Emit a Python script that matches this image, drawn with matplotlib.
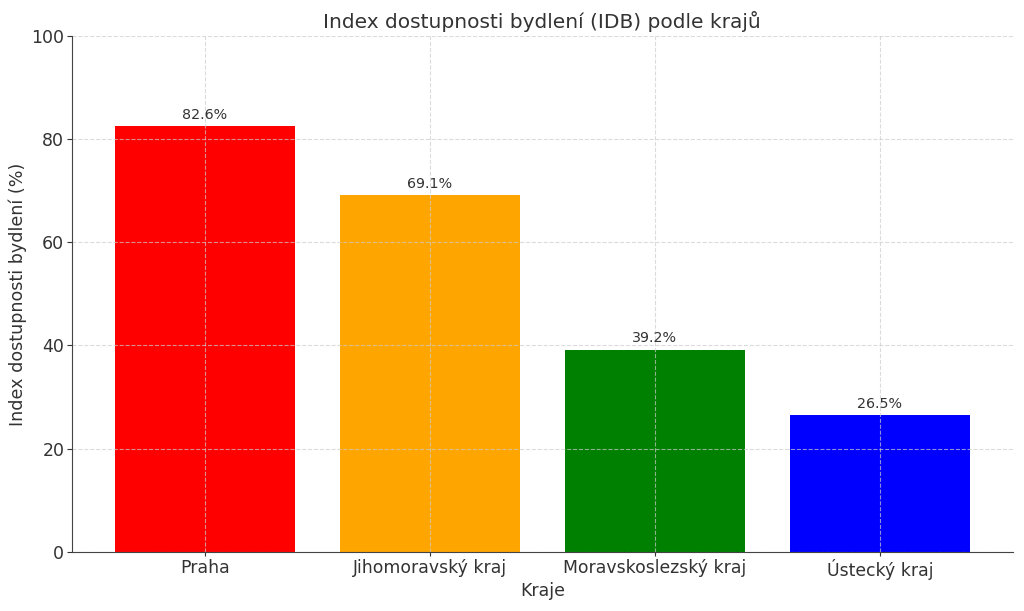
import matplotlib.pyplot as plt
import numpy as np

kraje = ["Praha", "Jihomoravský kraj", "Moravskoslezský kraj", "Ústecký kraj"]
idb = [82.6, 69.1, 39.2, 26.5]
barvy = ["red", "orange", "green", "blue"]

txt = "#333333"
plt.rcParams["text.color"] = txt
plt.rcParams["axes.labelcolor"] = txt
plt.rcParams["xtick.color"] = txt
plt.rcParams["ytick.color"] = txt

fig, ax = plt.subplots(figsize=(10.24, 6.11), dpi=100)
fig.subplots_adjust(left=0.0703, right=0.989, top=0.941, bottom=0.097)

bars = ax.bar(kraje, idb, color=barvy, width=0.8)
for b, v in zip(bars, idb):
    ax.text(b.get_x() + b.get_width() / 2, v + 0.8, f"{v}%",
            ha="center", va="bottom", fontsize=10.3)

ax.set_ylim(0, 100)
ax.set_title("Index dostupnosti bydlení (IDB) podle krajů", fontsize=14.5)
ax.set_xlabel("Kraje", fontsize=12.5, labelpad=2)
ax.set_ylabel("Index dostupnosti bydlení (%)", fontsize=12.6, labelpad=3)
ax.tick_params(axis="y", labelsize=12.5, pad=2)
ax.tick_params(axis="x", labelsize=12.4, pad=2, length=3)
ax.grid(True, linestyle="--", color="#cccccc", linewidth=0.8, alpha=0.7)
ax.spines["top"].set_visible(False)
ax.spines["right"].set_visible(False)
ax.spines["left"].set_color("#444444")
ax.spines["bottom"].set_color("#444444")

fig.savefig("out.png")
